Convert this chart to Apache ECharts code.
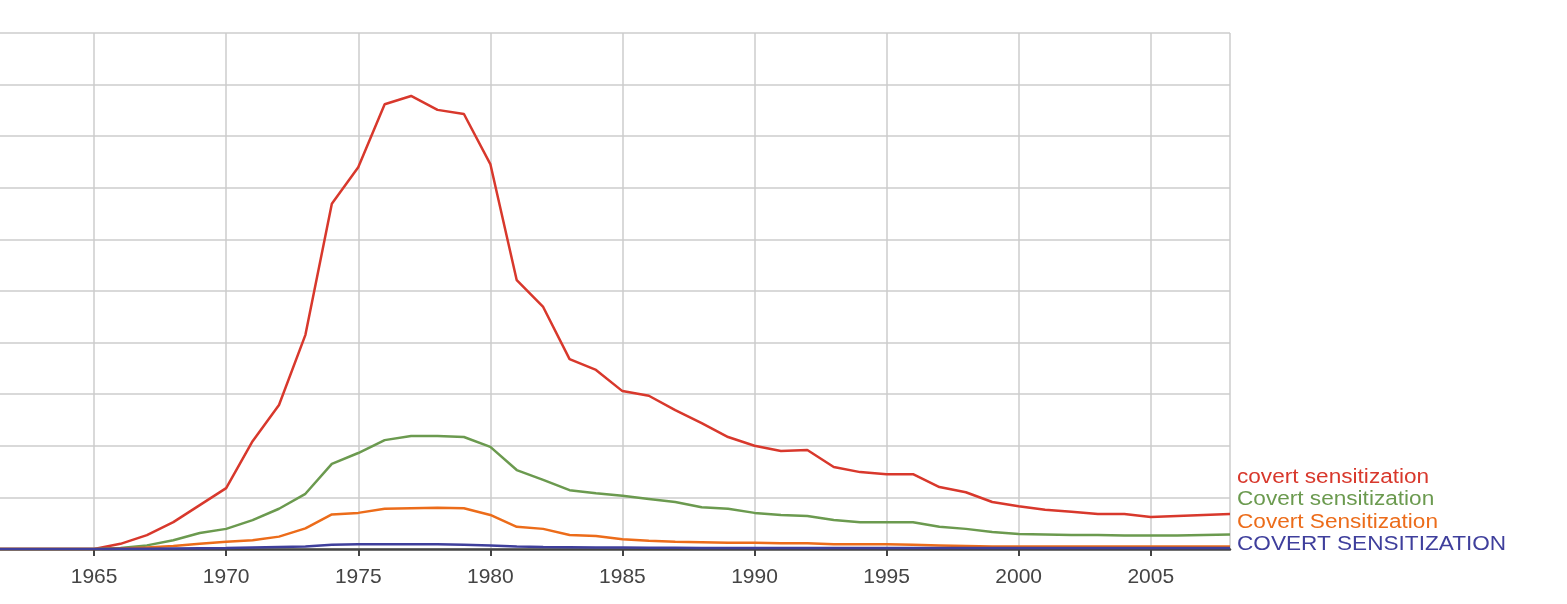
<!DOCTYPE html>
<html><head><meta charset="utf-8">
<script src="https://cdn.jsdelivr.net/npm/echarts@6/dist/echarts.min.js"></script>
<style>html,body{margin:0;padding:0;background:#fff;overflow:hidden;width:1567px;height:604px}
#c{position:absolute;left:-38px;top:0;width:1605px;height:604px}</style>
</head><body><div id="c"></div>
<script>
const years = [];
for (let y = 1960; y <= 2008; y++) years.push(y);
const seriesNames = ["covert sensitization","Covert sensitization","Covert Sensitization","COVERT SENSITIZATION"];
const colors = ["#d8382c","#6b9a4f","#ec6c1a","#3f3f9c"];
const red = [0,0,0,0,0,
 0,0.10,0.27,0.52,0.85,1.18,2.09,2.79,4.15,6.69,7.40,8.62,8.78,8.51,8.43,7.46,5.21,4.69,3.68,3.47,3.06,2.97,2.69,2.44,2.17,2.00,1.90,1.92,1.59,1.49,1.45,1.45,1.20,1.10,0.91,0.83,0.76,0.72,0.68,0.68,0.62,0.64,0.66,0.68];
const green = [0,0,0,0,0,
 0,0.02,0.07,0.17,0.31,0.39,0.56,0.78,1.07,1.65,1.86,2.11,2.19,2.19,2.17,1.98,1.53,1.34,1.14,1.08,1.03,0.97,0.91,0.81,0.78,0.70,0.66,0.64,0.56,0.52,0.52,0.52,0.43,0.39,0.33,0.29,0.28,0.27,0.27,0.26,0.26,0.26,0.27,0.28];
const orange = [0,0,0,0,0,
 0,0.01,0.03,0.06,0.10,0.14,0.17,0.24,0.40,0.67,0.70,0.78,0.79,0.80,0.79,0.66,0.43,0.39,0.27,0.25,0.19,0.16,0.14,0.13,0.12,0.12,0.11,0.11,0.09,0.09,0.09,0.08,0.07,0.06,0.05,0.05,0.05,0.05,0.05,0.05,0.05,0.05,0.05,0.05];
const blue = [0,0,0,0,0,
 0,0.003,0.005,0.01,0.015,0.02,0.03,0.04,0.05,0.08,0.09,0.09,0.09,0.09,0.08,0.07,0.05,0.04,0.035,0.03,0.03,0.025,0.025,0.02,0.02,0.02,0.02,0.02,0.02,0.02,0.02,0.02,0.02,0.02,0.02,0.02,0.02,0.02,0.02,0.02,0.02,0.02,0.02,0.02];
const allData = [red, green, orange, blue];

const chart = echarts.init(document.getElementById('c'), null, {renderer:'canvas'});
const labelY = [477, 499, 522, 544];
chart.setOption({
  animation:false,
  grid:{left:0, right:337, top:33, bottom:55, containLabel:false, outerBoundsMode:'none'},
  xAxis:{type:'value', min:1960, max:2008, interval:5,
    axisLine:{show:true, onZero:false, lineStyle:{color:'#444', width:2.5}},
    axisTick:{show:true, length:7, lineStyle:{color:'#444', width:2}},
    axisLabel:{color:'#444', fontSize:21, fontFamily:'Liberation Sans, Arial', margin:18,
      showMaxLabel:false, formatter: v => String(v)},
    splitLine:{show:true, lineStyle:{color:'#cccccc', width:1.5}}},
  yAxis:{type:'value', min:0, max:10, interval:1,
    axisLine:{show:false}, axisTick:{show:false}, axisLabel:{show:false},
    splitLine:{show:true, lineStyle:{color:'#cccccc', width:1.5}}},
  series: allData.map((d,i)=>({
    type:'line', name:seriesNames[i], data:years.map((y,j)=>[y,d[j]]),
    showSymbol:false, symbol:'none', lineStyle:{color:colors[i], width:2.5}, itemStyle:{color:colors[i]},
    z: 2+i
  })),
  graphic: seriesNames.map((n,i)=>({type:'text', x:1275, y:labelY[i], scaleX:1.13,
    style:{text:n, fill:colors[i], fontSize:20, fontFamily:'Liberation Sans, Arial', verticalAlign:'middle', align:'left'}}))
});
</script></body></html>
